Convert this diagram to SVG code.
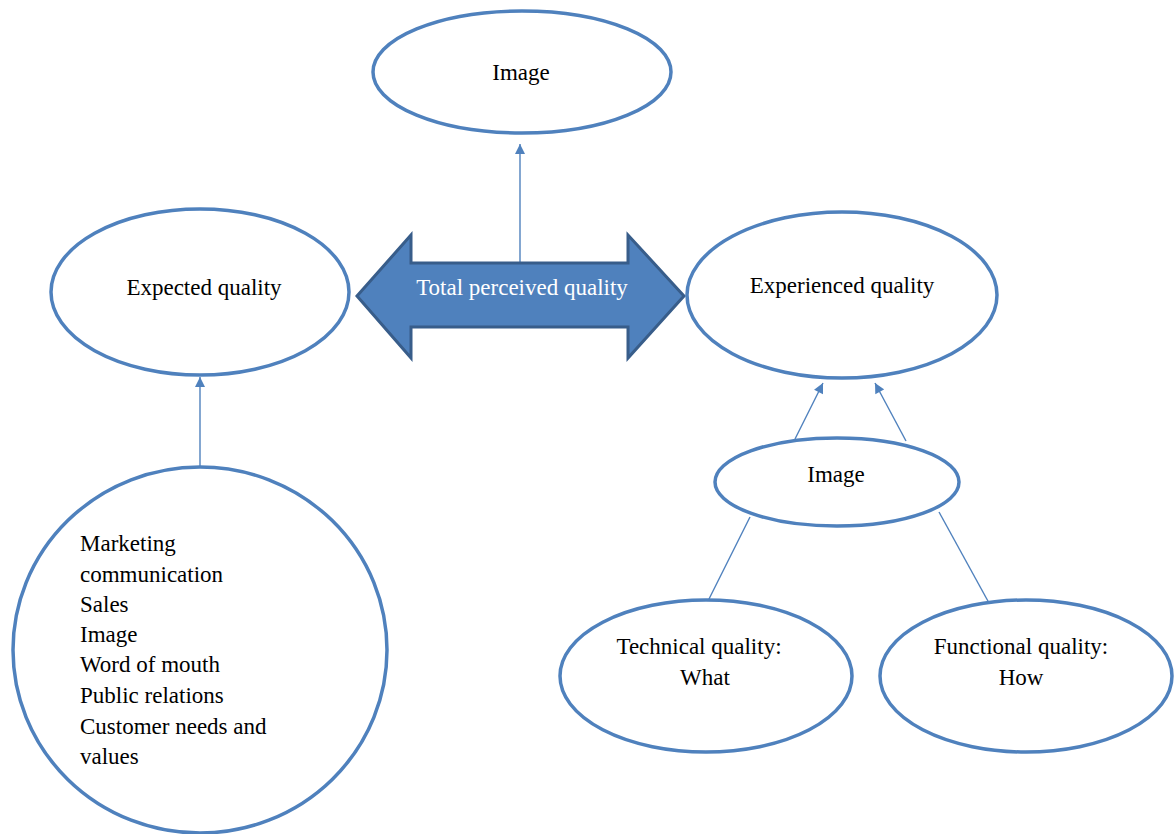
<svg xmlns="http://www.w3.org/2000/svg" width="1174" height="834" viewBox="0 0 1174 834">
<style>
.node ellipse{fill:#fff;stroke:#4F81BD;stroke-width:3.5}
text{font-family:"Liberation Serif","Times New Roman",serif;font-size:23px;fill:#000}
.c{text-anchor:middle}
.conn line{stroke:#4F81BD;stroke-width:1.4;fill:none}
</style>
<defs>
<marker id="ah" viewBox="0 0 10 10" refX="10" refY="5" markerUnits="userSpaceOnUse" markerWidth="12" markerHeight="10" orient="auto">
<path d="M0,0 L10,5 L0,10 Z" fill="#4F81BD"/>
</marker>
</defs>
<rect width="1174" height="834" fill="#fff"/>
<g id="connectors" class="conn">
<line x1="520" y1="263" x2="520" y2="144" marker-end="url(#ah)"/>
<line x1="200" y1="466" x2="200" y2="377" marker-end="url(#ah)"/>
<line x1="795" y1="439" x2="823" y2="383" marker-end="url(#ah)"/>
<line x1="906" y1="441" x2="875" y2="383" marker-end="url(#ah)"/>
<line x1="750" y1="517" x2="707" y2="603"/>
<line x1="939" y1="512" x2="989" y2="603"/>
</g>
<g id="total-perceived-quality">
<polygon points="357,296 411,235 411,263 628,263 628,235 684,296 628,358 628,327 411,327 411,358" fill="#4F81BD" stroke="#385D8A" stroke-width="3" stroke-linejoin="miter"/>
<text class="c" x="522" y="295" style="fill:#fff">Total perceived quality</text>
</g>
<g id="image-top" class="node">
<ellipse cx="522" cy="72" rx="149" ry="61"/>
<text class="c" x="521" y="80">Image</text>
</g>
<g id="expected-quality" class="node">
<ellipse cx="200" cy="292" rx="149" ry="83"/>
<text class="c" x="204" y="295">Expected quality</text>
</g>
<g id="experienced-quality" class="node">
<ellipse cx="842" cy="295" rx="155" ry="83"/>
<text class="c" x="842" y="293">Experienced quality</text>
</g>
<g id="sources" class="node">
<ellipse cx="200" cy="650" rx="187" ry="183"/>
<text x="80" y="551">Marketing</text>
<text x="80" y="582">communication</text>
<text x="80" y="612">Sales</text>
<text x="80" y="642">Image</text>
<text x="80" y="672">Word of mouth</text>
<text x="80" y="703">Public relations</text>
<text x="80" y="734">Customer needs and</text>
<text x="80" y="764">values</text>
</g>
<g id="image-mid" class="node">
<ellipse cx="837" cy="482" rx="122" ry="44"/>
<text class="c" x="836" y="482">Image</text>
</g>
<g id="technical-quality" class="node">
<ellipse cx="706" cy="676" rx="146" ry="76"/>
<text class="c" x="699" y="654">Technical quality:</text>
<text class="c" x="705" y="685">What</text>
</g>
<g id="functional-quality" class="node">
<ellipse cx="1026" cy="676" rx="146" ry="76"/>
<text class="c" x="1021" y="654">Functional quality:</text>
<text class="c" x="1021" y="685">How</text>
</g>
</svg>
